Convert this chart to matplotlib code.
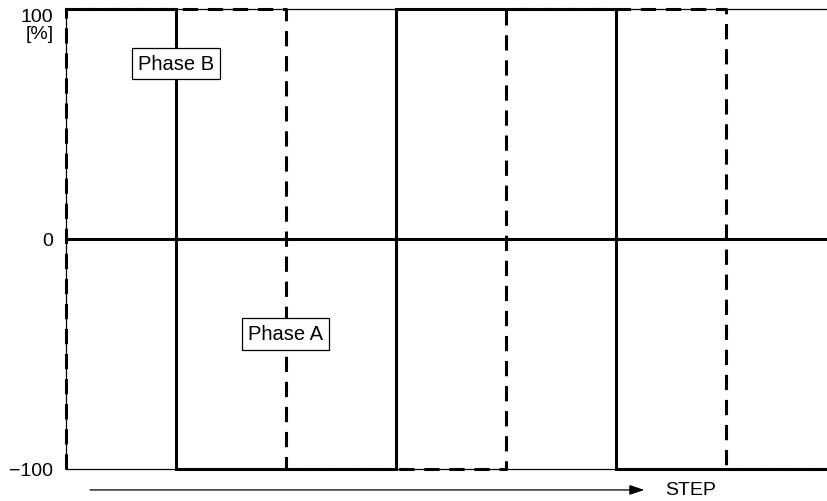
import matplotlib
matplotlib.use("Agg")
import matplotlib.pyplot as plt

plt.rcParams['font.family'] = ['Liberation Sans', 'DejaVu Sans']

# data (x in quarter-step units, y in %)
solid_x = [0, 1, 1, 3, 3, 5, 5, 6.93]
solid_y = [100, 100, -100, -100, 100, 100, -100, -100]
dash_x = [0, 0, 2, 2, 4, 4, 6, 6, 6.93]
dash_y = [-100, 100, 100, -100, -100, 100, 100, -100, -100]
ytick_vals = [-100, 0]
ytick_labels = ['\u2212100', '0']
top_label = '100\n[%]'
labels = ['Phase B', 'Phase A']
label_x = [1.0, 2.0]
label_y = [76.4, -41.3]

fig = plt.figure(figsize=(8.28, 5.02), dpi=100)
ax = fig.add_axes([66/828, 1 - 470/502, 762/828, 460/502])
ax.set_xlim(0, 6.93)
ax.set_ylim(-100, 100)

ax.axhline(0, color='black', lw=2.2, zorder=2)
ax.plot(solid_x, solid_y, color='black', lw=2.2, solid_joinstyle='miter', zorder=3, clip_on=False)
ax.plot(dash_x, dash_y, color='black', lw=2.2, ls=(0, (5, 3.2)), zorder=3, clip_on=False)

for s in ax.spines.values():
    s.set_linewidth(0.9)
    s.set_color('black')
ax.spines['right'].set_visible(False)

ax.set_xticks([])
ax.set_yticks(ytick_vals)
ax.set_yticklabels(ytick_labels, fontsize=14)
ax.tick_params(axis='y', length=0, pad=9)
ax.annotate(top_label, xy=(0, 100), xycoords=('axes fraction', 'data'),
            xytext=(-9, 1), textcoords='offset points', ha='right', va='top',
            fontsize=14, linespacing=1.0, annotation_clip=False)

for t, x, y in zip(labels, label_x, label_y):
    ax.text(x, y, t, fontsize=14.5, ha='center', va='center', zorder=5,
            bbox=dict(boxstyle='square,pad=0.3', fc='white', ec='black', lw=0.9))

ax.annotate('', xy=(5.26, -109.1), xytext=(0.218, -109.1), xycoords='data',
            annotation_clip=False,
            arrowprops=dict(arrowstyle='-|>,head_length=0.9,head_width=0.3', color='black', lw=0.9, shrinkA=0, shrinkB=0))
ax.text(5.45, -109.1, 'STEP', fontsize=14, ha='left', va='center', clip_on=False)

fig.savefig('out.png', dpi=100)
